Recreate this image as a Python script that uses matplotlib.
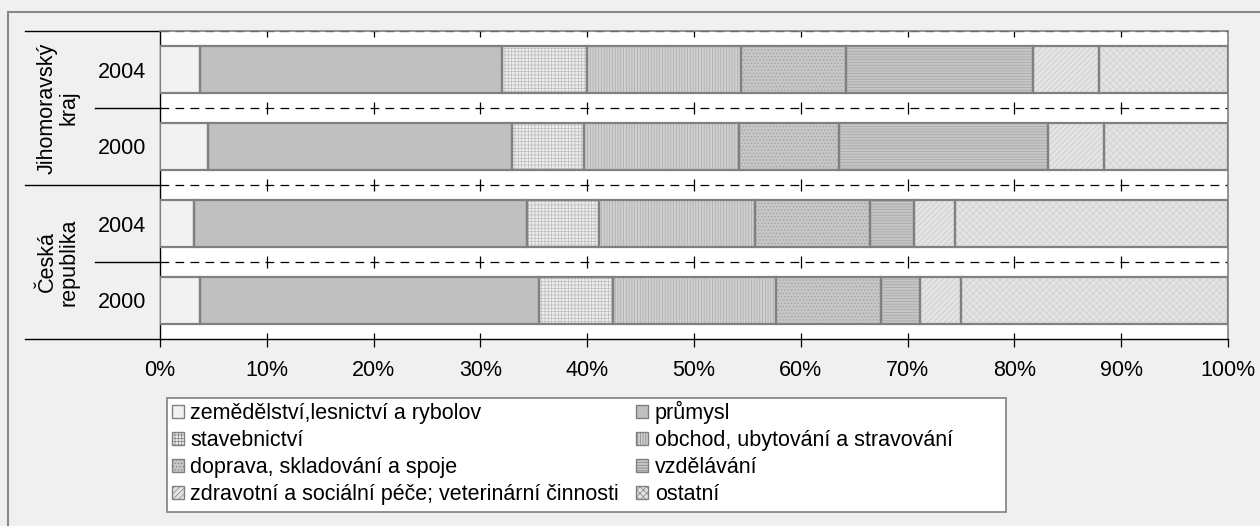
import matplotlib
matplotlib.use("Agg")
import matplotlib.pyplot as plt
import matplotlib.patches as mpatches
import matplotlib.transforms as mtransforms
import numpy as np

plt.rcParams["font.family"] = ["Liberation Sans", "DejaVu Sans"]
plt.rcParams["hatch.linewidth"] = 0.5

# rows top -> bottom
row_labels = ["2004", "2000", "2004", "2000"]
group_labels = ["Jihomoravský\nkraj", "Česká\nrepublika"]

categories = [
    "zemědělství,lesnictví a rybolov",
    "průmysl",
    "stavebnictví",
    "obchod, ubytování a stravování",
    "doprava, skladování a spoje",
    "vzdělávání",
    "zdravotní a sociální péče; veterinární činnosti",
    "ostatní",
]

zemedelstvi = [3.7, 4.5, 3.2, 3.7]
prumysl = [28.3, 28.5, 31.2, 31.8]
stavebnictvi = [8.0, 6.7, 6.7, 6.9]
obchod = [14.4, 14.5, 14.6, 15.3]
doprava = [9.8, 9.4, 10.8, 9.8]
vzdelavani = [17.5, 19.5, 4.1, 3.7]
zdravotni = [6.2, 5.3, 3.8, 3.8]
ostatni = [12.1, 11.6, 25.6, 25.0]

series = [zemedelstvi, prumysl, stavebnictvi, obchod, doprava, vzdelavani, zdravotni, ostatni]

# (face, hatch, hatch colour)
STYLES = [
    ("#f2f2f2", None, "#f2f2f2"),
    ("#c0c0c0", None, "#c0c0c0"),
    ("#ececec", "+++++", "#bcbcbc"),
    ("#d0d0d0", "||||||", "#aaaaaa"),
    ("#c6c6c6", ".....", "#a0a0a0"),
    ("#c6c6c6", "------", "#a4a4a4"),
    ("#e4e4e4", "//////", "#c8c8c8"),
    ("#e4e4e4", "xxxxx", "#cfcfcf"),
]
EDGE = "#808080"
FS = 15.5

W, H = 1260, 526
fig = plt.figure(figsize=(W / 100, H / 100), dpi=100, facecolor="#f0f0f0")

# outer chart frame (only left/top edges visible)
fig.patches.append(mpatches.Rectangle((8 / W, -0.1), 1.2, 1.1 - 12 / H,
                                      transform=fig.transFigure, fill=False,
                                      edgecolor="#888888", linewidth=1.5))

ax = fig.add_axes([160 / W, 1 - 339 / H, (1228 - 160) / W, (339 - 31) / H])
ax.set_facecolor("white")

ypos = np.arange(len(row_labels))[::-1]
left = np.zeros(len(row_labels))
for vals, (face, hatch, hc) in zip(series, STYLES):
    vals = np.array(vals)
    ax.barh(ypos, vals, left=left, height=0.6, color=face, edgecolor=hc,
            linewidth=0, hatch=hatch, zorder=3)
    ax.barh(ypos, vals, left=left, height=0.6, fill=False, edgecolor=EDGE,
            linewidth=1.6, zorder=4)
    left += vals

ax.set_xlim(0, 100)
ax.set_ylim(-0.5, 3.5)

# dashed separators between rows
for yb in [0.5, 1.5, 2.5, 3.5]:
    ax.axhline(yb, color="black", linewidth=0.9, linestyle=(0, (7, 5)), zorder=2)

# tick stubs along every separator
stub = 6 / 77
xt = np.arange(10, 100, 10)
for yb in [0.5, 1.5, 2.5]:
    ax.vlines(xt, yb - stub, yb + stub, color="black", linewidth=0.9, zorder=2)
ax.vlines(xt, 3.5 - stub, 3.5, color="black", linewidth=0.9, zorder=2)
ax.vlines(xt, -0.5, -0.5 + stub, color="black", linewidth=0.9, zorder=2)

ax.set_xticks(np.arange(0, 101, 10))
ax.set_xticklabels([f"{v}%" for v in range(0, 101, 10)], fontsize=FS)
ax.tick_params(axis="x", direction="out", length=6, width=0.9, pad=9)
ax.set_yticks(ypos)
ax.set_yticklabels(row_labels, fontsize=FS)
ax.tick_params(axis="y", length=0, pad=10)

for side in ["top", "right"]:
    ax.spines[side].set_color(EDGE)
    ax.spines[side].set_linewidth(1.2)
for side in ["left", "bottom"]:
    ax.spines[side].set_color("black")
    ax.spines[side].set_linewidth(1.0)

# multi-level category axis on the left
trans = mtransforms.blended_transform_factory(fig.transFigure, ax.transData)
for yb in [-0.5, 1.5, 3.5]:
    ax.plot([25 / W, 160 / W], [yb, yb], transform=trans, color="black",
            linewidth=1.0, clip_on=False)
for yb in [0.5, 2.5]:
    ax.plot([95 / W, 160 / W], [yb, yb], transform=trans, color="black",
            linewidth=1.0, clip_on=False)
for label, yc in zip(group_labels, [2.5, 0.5]):
    ax.text(58 / W, yc, label, transform=trans, rotation=90, ha="center",
            va="center", multialignment="center", fontsize=FS, linespacing=1.05)

# legend with its own box
fig.patches.append(mpatches.Rectangle((167 / W, 1 - 512 / H), (1006 - 167) / W,
                                      (512 - 398) / H, transform=fig.transFigure,
                                      facecolor="white", edgecolor="#808080",
                                      linewidth=1.2))
handles = [mpatches.Patch(facecolor=f, edgecolor=EDGE, hatch=h, linewidth=1.0, label=c)
           for c, (f, h, hc) in zip(categories, STYLES)]
order = [0, 2, 4, 6, 1, 3, 5, 7]
fig.legend([handles[i] for i in order], [categories[i] for i in order],
           loc="upper left", bbox_to_anchor=(170 / W, 1 - 399 / H), ncol=2,
           frameon=False, fontsize=FS, handlelength=0.55, handleheight=0.55,
           handletextpad=0.3, columnspacing=0.8, labelspacing=0.28,
           borderaxespad=0, borderpad=0.1)

fig.savefig("out.png", dpi=100, facecolor=fig.get_facecolor())
